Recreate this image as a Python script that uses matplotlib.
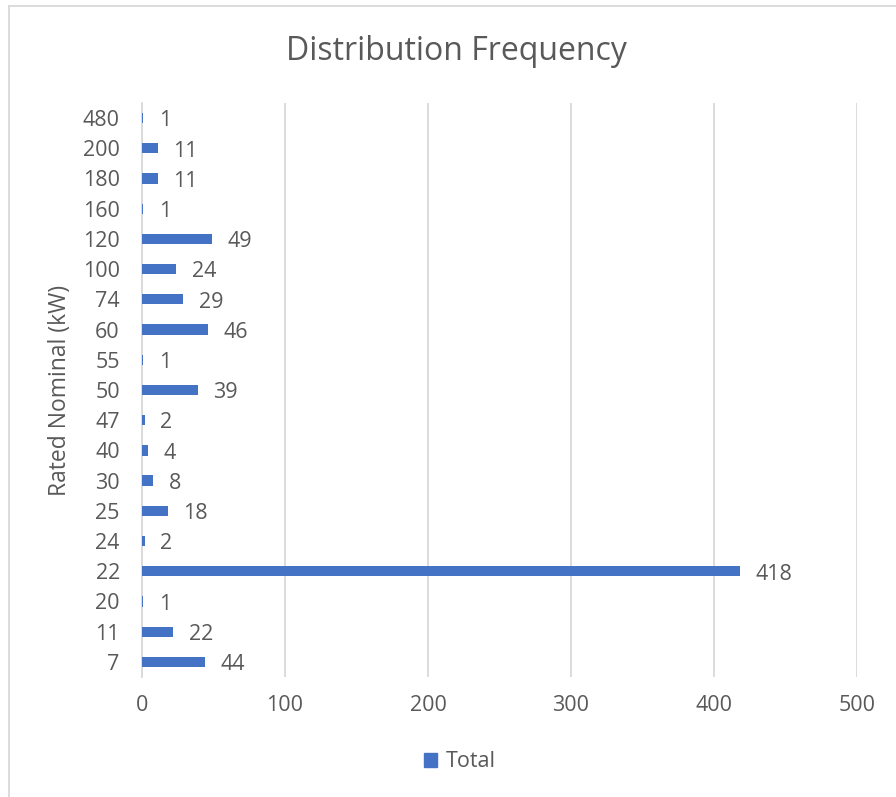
import matplotlib.pyplot as plt
from matplotlib.lines import Line2D
from matplotlib.patches import Patch

plt.rcParams['font.family'] = ['Open Sans', 'DejaVu Sans']

# Rated nominal power categories (bottom to top) and counts
categories = ['7', '11', '20', '22', '24', '25', '30', '40', '47', '50',
              '55', '60', '74', '100', '120', '160', '180', '200', '480']
totals = [44, 22, 1, 418, 2, 18, 8, 4, 2, 39, 1, 46, 29, 24, 49, 1, 11, 11, 1]

bar_color = '#4472C4'
text_color = '#595959'
grid_color = '#D9D9D9'

fig = plt.figure(figsize=(8.96, 7.97), dpi=100)
ax = fig.add_axes([0.1585, 0.1506, 0.798, 0.7202])

y = range(len(categories))
ax.barh(y, totals, height=0.34, color=bar_color, zorder=3)
for yi, v in zip(y, totals):
    ax.annotate(str(v), (v, yi), xytext=(11, -2), textcoords='offset points',
                va='center', ha='left', fontsize=15.5, color=text_color)

ax.set_xlim(0, 500)
ax.set_ylim(-0.5, len(categories) - 0.5)
ax.set_yticks(list(y))
ax.set_yticklabels(categories)
ax.set_xticks([0, 100, 200, 300, 400, 500])
ax.tick_params(axis='both', length=0, labelsize=15.5, colors=text_color)
ax.tick_params(axis='x', pad=13)
ax.tick_params(axis='y', pad=16)
ax.grid(axis='x', color=grid_color, linewidth=1.3, zorder=0)
for s in ['top', 'right', 'bottom']:
    ax.spines[s].set_visible(False)
ax.spines['left'].set_color(grid_color)
ax.spines['left'].set_linewidth(1.3)

ax.set_ylabel('Rated Nominal (kW)', fontsize=16.5, color=text_color, labelpad=8)
fig.text(0.509, 0.935, 'Distribution Frequency', ha='center', va='center',
         fontsize=23, color=text_color)

leg = fig.legend(handles=[Patch(color=bar_color, label='Total')],
                 loc='center', bbox_to_anchor=(0.513, 0.044), frameon=False,
                 fontsize=15.5, handlelength=0.6, handleheight=0.6, handletextpad=0.4)
for t in leg.get_texts():
    t.set_color(text_color)

# chart area border (only left/top visible in the crop)
fig.add_artist(Line2D([0.0095, 0.0095], [0, 0.9925], color=grid_color, linewidth=1.3))
fig.add_artist(Line2D([0.0095, 1], [0.9925, 0.9925], color=grid_color, linewidth=1.3))

fig.savefig('out.png', dpi=100)
